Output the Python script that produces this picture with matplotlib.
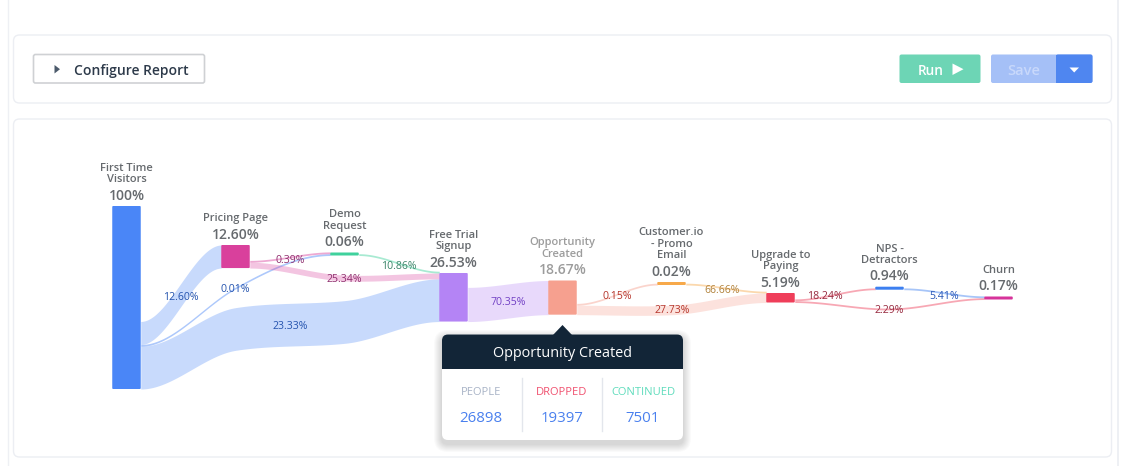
import numpy as np
import matplotlib
matplotlib.use("Agg")
import matplotlib.pyplot as plt
from matplotlib.patches import FancyBboxPatch, Polygon, Rectangle

plt.rcParams['font.family'] = ['Open Sans', 'DejaVu Sans']

# funnel steps
node_names = ["First Time\nVisitors", "Pricing Page", "Demo\nRequest", "Free Trial\nSignup",
              "Opportunity\nCreated", "Customer.io\n- Promo\nEmail", "Upgrade to\nPaying",
              "NPS -\nDetractors", "Churn"]
node_pct = [100, 12.60, 0.06, 26.53, 18.67, 0.02, 5.19, 0.94, 0.17]
node_top = [206, 245, 252.5, 273, 280.5, 282, 293, 286.7, 296.5]
node_colors = ["#4a86f7", "#d9409c", "#3fd19c", "#b484f5", "#f6a08f", "#f7a94a", "#ef3e5a", "#3c7ff0", "#d6339a"]

# links, outgoing/incoming are stacked from the bottom of a node in this order
link_source = [0, 0, 0, 1, 1, 2, 3, 4, 4, 5, 6, 6, 7]
link_target = [3, 2, 1, 3, 2, 3, 4, 6, 5, 6, 8, 7, 8]
link_share = [23.33, 0.01, 12.60, 25.34, 0.39, 10.86, 70.35, 27.73, 0.15, 66.66, 2.29, 18.24, 5.41]
link_label_x = [290, 235, 180.5, 344, 290, 399, 508, 672, 617, 722, 889.5, 825, 944]
link_label_y = [325.5, 288, 296, 278.5, 259.5, 265, 301, 309, 295, 289, 309, 295, 295]
link_label_colors = ["#2453ae", "#2453ae", "#2453ae", "#8f2f6e", "#8f2f6e", "#3a8468", "#7140c4",
                     "#b5342a", "#b5342a", "#b08038", "#96293e", "#96293e", "#2a58b8"]
# centre height of long links where they pass a column
link_via = {0: {1: 329, 2: 322}, 1: {1: 288}, 3: {2: 278}, 7: {5: 310}, 10: {7: 309}}
link_bend = {1: 1.15}

tip_title = "Opportunity Created"
tip_heads = ["PEOPLE", "DROPPED", "CONTINUED"]
tip_values = [26898, 19397, 7501]
tip_colors = ["#a8b3c6", "#f0506e", "#5fdcbc"]

PX = 1.83
COL_X = 126.5
COL_STEP = 109
NODE_W = 28.5
TXT = 1.3  # Open Sans sits a little high with va=center


def round_box(ax, x0, y0, x1, y1, r, fc, ec="none", lw=1.0, **kw):
    p = FancyBboxPatch((x0, y0), x1 - x0, y1 - y0, boxstyle="round,pad=0,rounding_size=%s" % r,
                       fc=fc, ec=ec, lw=lw, **kw)
    ax.add_patch(p)
    return p


def smooth_path(xk, yk, bend):
    # hermite pieces through the knots, flat where the link meets a node
    xk = np.array(xk, dtype=float)
    yk = np.array(yk, dtype=float)
    m = np.zeros(len(xk))
    for i in range(1, len(xk) - 1):
        m[i] = bend * (yk[i + 1] - yk[i - 1]) / (xk[i + 1] - xk[i - 1])
    px, py = [], []
    for i in range(len(xk) - 1):
        h = xk[i + 1] - xk[i]
        t = np.linspace(0, 1, 60)
        px.extend(xk[i] + h * t)
        py.extend((2 * t ** 3 - 3 * t ** 2 + 1) * yk[i] + (t ** 3 - 2 * t ** 2 + t) * h * m[i]
                  + (-2 * t ** 3 + 3 * t ** 2) * yk[i + 1] + (t ** 3 - t ** 2) * h * m[i + 1])
    return np.array(px), np.array(py)


fig = plt.figure(figsize=(11.26, 4.66), dpi=100)
ax = fig.add_axes([0, 0, 1, 1])
ax.set_xlim(0, 1126)
ax.set_ylim(466, 0)
ax.axis("off")

# page frame and panels
ax.plot([7.5, 7.5], [0, 466], color="#eef0f4", lw=1)
ax.plot([1118, 1118], [0, 466], color="#eef0f4", lw=1.4)
round_box(ax, 13.5, 35, 1111.5, 103, 6, "white", "#eceef3")
round_box(ax, 13.5, 119, 1111.5, 457, 6, "white", "#eceef3")

# toolbar
round_box(ax, 33.5, 54.5, 204.5, 83, 2, "white", "#cfd1d4", 1.2)
ax.add_patch(Polygon([[54.5, 65], [54.5, 73.5], [60, 69.2]], fc="#4b5a6b"))
ax.text(74, 69.5 + TXT, "Configure Report", fontsize=10, fontweight="semibold", color="#2d3a4a", va="center")
round_box(ax, 899.5, 54.5, 980.5, 83, 2, "#6dd5b5")
ax.text(930.5, 69.5 + TXT, "Run", fontsize=9.8, fontweight="semibold", color="white", va="center", ha="center")
ax.add_patch(Polygon([[952.5, 63.5], [952.5, 75], [963.5, 69.2]], fc="white"))
round_box(ax, 991, 54.5, 1092.5, 83, 2, "#a5c0f7")
round_box(ax, 1056, 54.5, 1092.5, 83, 2, "#4f86f0")
ax.add_patch(Rectangle((1056, 54.5), 6, 28.5, fc="#4f86f0", ec="none"))
ax.text(1024, 69.5 + TXT, "Save", fontsize=10.5, fontweight="semibold", color="#c8d8fb", va="center", ha="center")
ax.add_patch(Polygon([[1069.5, 67.5], [1079, 67.5], [1074.2, 72.5]], fc="white"))

# sizes follow the percentages, very small steps get a minimum size
node_h = [max(3, v * PX) for v in node_pct]
node_x = [COL_X + COL_STEP * i for i in range(len(node_pct))]
out_used = [0.0] * len(node_pct)
in_used = [0.0] * len(node_pct)

for i, (s, t, share) in enumerate(zip(link_source, link_target, link_share)):
    w = max(1.8, node_pct[s] * share / 100 * PX)
    y_start = node_top[s] + node_h[s] - out_used[s] - w / 2
    y_end = node_top[t] + node_h[t] - in_used[t] - w / 2
    out_used[s] += w
    in_used[t] += w
    via = link_via.get(i, {})
    xk = [node_x[s] + NODE_W / 2] + [node_x[c] for c in via] + [node_x[t] - NODE_W / 2]
    yk = [y_start] + list(via.values()) + [y_end]
    px, py = smooth_path(xk, yk, link_bend.get(i, 0.7))
    alpha = 0.45 if w < 2.5 else 0.3
    ax.fill_between(px, py - w / 2, py + w / 2, color=node_colors[s], alpha=alpha, lw=0)
    ax.text(link_label_x[i], link_label_y[i] + TXT, "%.2f%%" % share, fontsize=7.6,
            color=link_label_colors[i], ha="center", va="center", zorder=5)

for i in range(len(node_pct)):
    round_box(ax, node_x[i] - NODE_W / 2, node_top[i], node_x[i] + NODE_W / 2, node_top[i] + node_h[i],
              1, node_colors[i], zorder=4)
    c = "#9c9c9c" if i == 4 else "#666a6e"
    pct = "100%" if node_pct[i] == 100 else "%.2f%%" % node_pct[i]
    ax.text(node_x[i], node_top[i] - 11.5 + TXT, pct, fontsize=10, fontweight="semibold", color=c,
            ha="center", va="center")
    lines = node_names[i].split("\n")
    for j, line in enumerate(reversed(lines)):
        ax.text(node_x[i], node_top[i] - 27.5 - j * 11.5 + TXT, line, fontsize=8, fontweight="semibold",
                color=c, ha="center", va="center")

# tooltip
for k in range(8, 0, -1):
    round_box(ax, 442 - k, 334 - k + 4, 683 + k, 440 + k + 4, 6 + k, "black", alpha=0.018, zorder=6)
round_box(ax, 442, 334.5, 683, 440, 6, "white", zorder=7)
round_box(ax, 442, 334.5, 683, 369, 6, "#122537", zorder=7)
ax.add_patch(Rectangle((442, 360), 241, 9, fc="#122537", ec="none", zorder=7))
ax.add_patch(Polygon([[553, 335], [572, 335], [562.5, 325]], fc="#122537", ec="none", zorder=7))
ax.text(562.5, 352 + TXT, tip_title, fontsize=10.4, color="white", ha="center", va="center", zorder=8)
for x in [521.7, 602.3]:
    ax.plot([x, x], [378, 431], color="#e3e6ec", lw=1, zorder=8)
for x, head, val, col in zip([481, 562, 643], tip_heads, tip_values, tip_colors):
    ax.text(x, 391 + TXT, head, fontsize=8, color=col, ha="center", va="center", zorder=8)
    ax.text(x, 417.5 + TXT, str(val), fontsize=10.8, color="#4a80ee", ha="center", va="center", zorder=8)

fig.savefig("out.png", dpi=100)
